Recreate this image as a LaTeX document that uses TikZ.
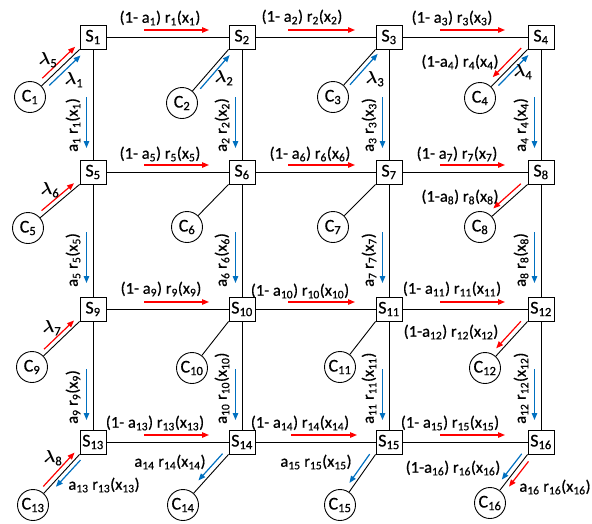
\documentclass[tikz,border=0pt]{standalone}
\usepackage{fontspec}
\usepackage{bm}
\setmainfont{Carlito}[FakeBold=0.6]
\usetikzlibrary{calc,arrows.meta}
\definecolor{ared}{RGB}{255,0,0}
\definecolor{ablue}{RGB}{0,112,192}
\newcommand{\sbx}[1]{\textsubscript{#1}}
% arrow parallel to link (client -> switch corner): #1 style, #2 client, #3 switch, #4 from, #5 to, #6 offset
\newcommand{\parr}[6]{\draw[#1] ($(c#2)!#4!(s#3.south west)!#6pt!90:(s#3.south west)$) -- ($(c#2)!#5!(s#3.south west)!#6pt!90:(s#3.south west)$);}
\begin{document}
\begin{tikzpicture}[x=1pt,y=-1pt,
 snode/.style={draw,line width=0.9pt,minimum width=26pt,minimum height=24pt,inner sep=0pt,font=\fontsize{18}{18}\selectfont},
 cnode/.style={draw,circle,line width=0.9pt,minimum size=31pt,inner sep=0pt,font=\fontsize{18}{18}\selectfont},
 link/.style={line width=0.9pt},
 rarr/.style={ared,line width=1.2pt,-{Triangle[length=7pt,width=5.5pt]}},
 barr/.style={ablue,line width=1.2pt,-{Triangle[length=7pt,width=5.5pt]}},
 lbl/.style={font=\fontsize{16.5}{16.5}\selectfont,inner sep=0pt},
 lam/.style={font=\fontsize{18}{18}\selectfont,inner sep=0pt}
]
\useasboundingbox (0,0) rectangle (592,523);
% switch nodes
\foreach \i/\x/\y in {1/93/37,2/242/37,3/389/37,4/541/37,5/93/172,6/242/172,7/389/172,8/541/172,9/93/309,10/242/309,11/389/309,12/541/309,13/93/442,14/242/442,15/389/442,16/541/442}
  \node[snode] (s\i) at (\x,\y) {S\sbx{\i}};
% client nodes
\foreach \i/\x/\y in {1/30/97,2/182/103,3/333/97,4/480/98,5/28/228,6/187/227,7/333/227,8/480/227,9/32/367,10/192/368,11/340/367,12/485/368,13/33/505,14/183/505,15/340/505,16/490/503}
  \node[cnode] (c\i) at (\x,\y) {C\sbx{\i}};
% links
\foreach \i in {1,...,16} \draw[link] (c\i) -- (s\i.south west);
\foreach \a/\b in {1/2,2/3,3/4,5/6,6/7,7/8,9/10,10/11,11/12,13/14,14/15,15/16}
  \draw[link] (s\a) -- (s\b);
\foreach \a/\b in {1/5,2/6,3/7,4/8,5/9,6/10,7/11,8/12,9/13,10/14,11/15,12/16}
  \draw[link] (s\a) -- (s\b);
% horizontal red arrows
\foreach \a/\p/\q in {1/51/116,2/46/113,3/51/116,5/51/116,6/46/113,7/51/116,9/51/116,10/46/113,11/51/116,13/51/116,14/49/115,15/51/116}
  \draw[rarr] ($(s\a)+(\p,-7)$) -- ($(s\a)+(\q,-7)$);
% horizontal labels
\node[lbl] (h1) at (160,18) {(1- a\sbx{1}) r\sbx{1}(x\sbx{1})};
\node[lbl] (h2) at (302,17) {(1- a\sbx{2}) r\sbx{2}(x\sbx{2})};
\node[lbl] (h3) at (452,18) {(1- a\sbx{3}) r\sbx{3}(x\sbx{3})};
\node[lbl] (h5) at (160,154) {(1- a\sbx{5}) r\sbx{5}(x\sbx{5})};
\node[lbl] (h6) at (310,154) {(1- a\sbx{6}) r\sbx{6}(x\sbx{6})};
\node[lbl] (h7) at (457,154) {(1- a\sbx{7}) r\sbx{7}(x\sbx{7})};
\node[lbl] (h9) at (161,289) {(1- a\sbx{9}) r\sbx{9}(x\sbx{9})};
\node[lbl] (h10) at (300,291) {(1- a\sbx{10}) r\sbx{10}(x\sbx{10})};
\node[lbl] (h11) at (452,289) {(1- a\sbx{11}) r\sbx{11}(x\sbx{11})};
\node[lbl] (h13) at (155,423) {(1- a\sbx{13}) r\sbx{13}(x\sbx{13})};
\node[lbl] (h14) at (300,423) {(1- a\sbx{14}) r\sbx{14}(x\sbx{14})};
\node[lbl] (h15) at (450,423) {(1- a\sbx{15}) r\sbx{15}(x\sbx{15})};
% vertical blue arrows and labels
\foreach \a in {1,...,12}{
  \draw[barr] ($(s\a)+(-6.5,60)$) -- ($(s\a)+(-6.5,111)$);
  \node[lbl,rotate=90,anchor=west] (v\a) at ($(s\a)+(-20,115)$) {a\sbx{\a} r\sbx{\a}(x\sbx{\a})};
}
% diagonal arrows parallel to client links
\parr{rarr}{1}{1}{0.32}{0.98}{5}
\parr{barr}{1}{1}{0.32}{0.95}{-5}
\parr{barr}{2}{2}{0.32}{0.95}{-4.5}
\parr{barr}{3}{3}{0.32}{0.97}{-4.5}
\parr{rarr}{4}{4}{0.95}{0.35}{5.5}
\parr{barr}{4}{4}{0.32}{0.95}{-4.5}
\parr{rarr}{5}{5}{0.32}{0.95}{4.5}
\parr{rarr}{8}{8}{0.93}{0.35}{5}
\parr{rarr}{9}{9}{0.32}{0.95}{4.5}
\parr{rarr}{12}{12}{0.93}{0.35}{5}
\parr{rarr}{13}{13}{0.3}{0.97}{5}
\parr{barr}{13}{13}{0.95}{0.42}{-4.5}
\parr{barr}{14}{14}{0.95}{0.42}{5}
\parr{barr}{15}{15}{0.95}{0.38}{5}
\parr{barr}{16}{16}{0.95}{0.42}{5}
\parr{rarr}{16}{16}{0.92}{0.4}{-5}
% lambda labels
\node[lam] (l5) at (48,60) {$\bm\lambda$\sbx{5}};
\node[lam] (l1) at (74,80) {$\bm\lambda$\sbx{1}};
\node[lam] (l2) at (224,78) {$\bm\lambda$\sbx{2}};
\node[lam] (l3) at (375,79) {$\bm\lambda$\sbx{3}};
\node[lam] (l4) at (523,72) {$\bm\lambda$\sbx{4}};
\node[lam] (l6) at (50,190) {$\bm\lambda$\sbx{6}};
\node[lam] (l7) at (52,328) {$\bm\lambda$\sbx{7}};
\node[lam] (l8) at (53,458) {$\bm\lambda$\sbx{8}};
% other labels
\node[lbl] (d4) at (460,62) {(1-a\sbx{4}) r\sbx{4}(x\sbx{4})};
\node[lbl] (d8) at (460,197) {(1-a\sbx{8}) r\sbx{8}(x\sbx{8})};
\node[lbl] (d12) at (451,332) {(1-a\sbx{12}) r\sbx{12}(x\sbx{12})};
\node[lbl] (d13) at (104,485) {a\sbx{13} r\sbx{13}(x\sbx{13})};
\node[lbl] (d14) at (170,462) {a\sbx{14} r\sbx{14}(x\sbx{14})};
\node[lbl] (d15) at (316,462) {a\sbx{15} r\sbx{15}(x\sbx{15})};
\node[lbl] (d16) at (453,468) {(1-a\sbx{16}) r\sbx{16}(x\sbx{16})};
\node[lbl] (e16) at (555,487) {a\sbx{16} r\sbx{16}(x\sbx{16})};
\end{tikzpicture}
\end{document}
